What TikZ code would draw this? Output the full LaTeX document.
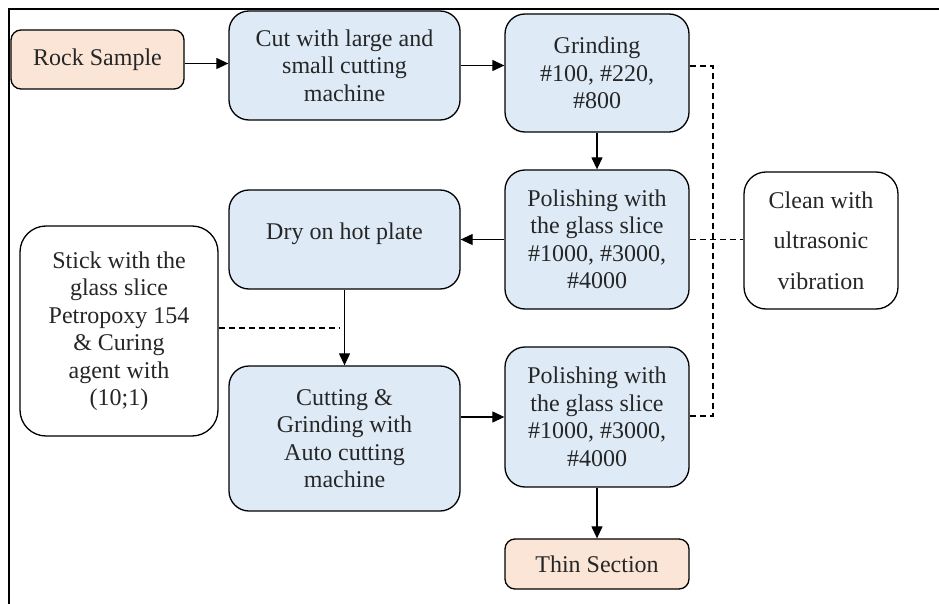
\documentclass[tikz,border=0pt]{standalone}
\usepackage{fontspec}
\setmainfont{Liberation Serif}
\usetikzlibrary{arrows.meta,calc}
\definecolor{boxblue}{HTML}{DEEBF7}
\definecolor{boxpeach}{HTML}{FBE5D6}
\tikzset{
  base/.style={draw=black, line width=1.3pt, align=center, inner sep=0pt,
    font=\fontsize{24}{27.5}\selectfont, text=black!85},
  bluebox/.style={base, fill=boxblue, rounded corners=20pt},
  peachbox/.style={base, fill=boxpeach, rounded corners=10pt},
  whitebox/.style={base, fill=white, rounded corners=26pt},
  arr/.style={line width=1.2pt, -{Triangle[length=12pt,width=11pt]}},
  dsh/.style={line width=1.1pt, dash pattern=on 6pt off 4pt},
}
\begin{document}
\begin{tikzpicture}[x=1pt,y=-1pt]
\useasboundingbox (0,0) rectangle (939,604);
\draw[line width=1.5pt] (9,604) -- (9,9) -- (939,9);

\node[peachbox, minimum width=173pt, minimum height=59pt] (rock) at (97.5,59.5) {Rock Sample};
\node[bluebox, minimum width=231pt, minimum height=109pt] (cut) at (344.5,65.5) {Cut with large and\\small cutting\\machine};
\node[bluebox, minimum width=184pt, minimum height=118pt] (grind) at (597,73) {Grinding\\\#100, \#220,\\\#800};
\node[bluebox, minimum width=184pt, minimum height=139pt] (pol1) at (597,239.5) {Polishing with\\the glass slice\\\#1000, \#3000,\\\#4000};
\node[whitebox, rounded corners=22pt, minimum width=154pt, minimum height=137pt] (clean) at (821,240.5) {Clean with\\[13pt]ultrasonic\\[13pt]vibration};
\node[bluebox, minimum width=231pt, minimum height=99pt, text depth=17pt] (dry) at (344.5,239.5) {Dry on hot plate};
\node[whitebox, minimum width=198pt, minimum height=210pt] (stick) at (119,331) {Stick with the\\glass slice\\Petropoxy 154\\\& Curing\\agent with\\(10;1)};
\node[bluebox, minimum width=231pt, minimum height=145pt] (cutg) at (344.5,438.5) {Cutting \&\\Grinding with\\Auto cutting\\machine};
\node[bluebox, minimum width=184pt, minimum height=140pt] (pol2) at (597,417) {Polishing with\\the glass slice\\\#1000, \#3000,\\\#4000};
\node[peachbox, minimum width=184pt, minimum height=50pt] (thin) at (597,564) {Thin Section};

\draw[arr] ([yshift=-4pt]rock.east) -- ([yshift=-4pt]rock.east -| cut.west);
\draw[arr] (cut.east) -- (cut.east -| grind.west);
\draw[arr] (grind.south) -- (pol1.north);
\draw[arr] (pol1.west) -- (pol1.west -| dry.east);
\draw[arr] (dry.south) -- (cutg.north);
\draw[arr] (pol2.west -| cutg.east) -- (pol2.west);
\draw[arr] (pol2.south) -- (thin.north);

\coordinate (bt) at (713,66);
\coordinate (bb) at (713,416);
\coordinate (se) at (340,328);
\draw[dsh] (grind.east |- bt) -- (bt) -- (bb) -- (pol2.east |- bb);
\draw[dsh] (pol1.east) -- (pol1.east -| clean.west);
\draw[dsh] (stick.east |- se) -- (se);
\end{tikzpicture}
\end{document}
